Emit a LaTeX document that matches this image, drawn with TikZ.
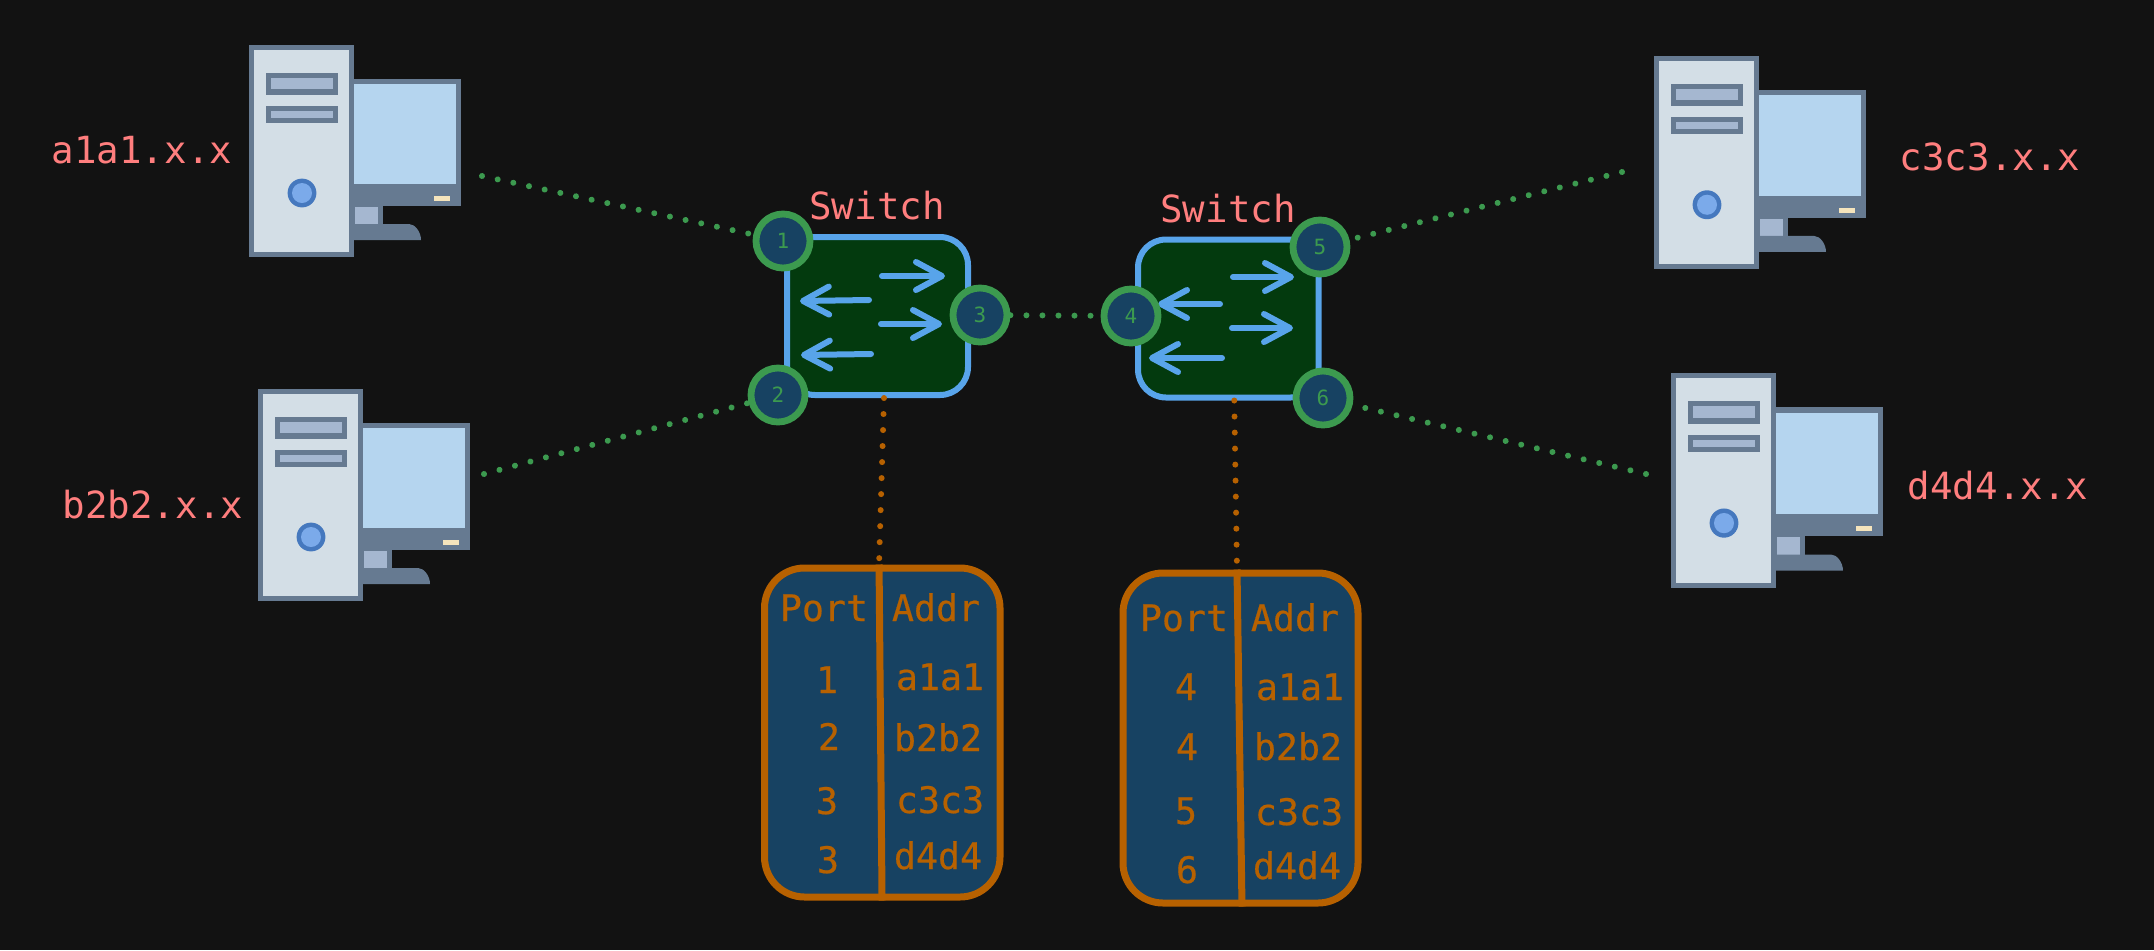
\documentclass[tikz,border=0pt]{standalone}
\usepackage{fontspec}
\setmainfont{DejaVu Sans Mono}
\newfontfamily\tblfont[FakeBold=0.5]{DejaVu Sans Mono}
\usetikzlibrary{arrows.meta}
\definecolor{bgc}{HTML}{121212}
\definecolor{pink}{HTML}{FF7E7E}
\definecolor{swfill}{HTML}{033A0E}
\definecolor{flowc}{HTML}{58A4EA}
\definecolor{linkc}{HTML}{3C9A4F}
\definecolor{cellc}{HTML}{174262}
\definecolor{amber}{HTML}{B76100}
\definecolor{pcedge}{HTML}{667A91}
\definecolor{pcbody}{HTML}{D3DEE6}
\definecolor{pcscreen}{HTML}{B5D5EF}
\definecolor{pcbay}{HTML}{A5B7D0}
\definecolor{pcbtn}{HTML}{7BAAEA}
\definecolor{pcbtne}{HTML}{4578BE}
\definecolor{pcled}{HTML}{F5E4BC}
\tikzset{
  x=0.5pt,y=-0.5pt,
  hostlabel/.style={text=pink,anchor=base,inner sep=0pt,font=\fontsize{18.7}{22}\selectfont},
  celltext/.style={text=amber,anchor=base,inner sep=0pt,font=\tblfont\fontsize{18.3}{22}\selectfont},
  switchbox/.style={draw=flowc,fill=swfill,line width=3pt,rounded corners=14pt,minimum width=90.5pt,minimum height=79pt,inner sep=0pt},
  portnode/.style={circle,draw=linkc,fill=cellc,line width=3.4pt,minimum size=27pt,inner sep=0pt,text=linkc,font=\fontsize{10.5}{12}\selectfont},
  tablebox/.style={draw=amber,fill=cellc,line width=3.5pt,rounded corners=20pt,inner sep=0pt},
  divider/.style={draw=amber,line width=3.5pt},
  flow/.style={draw=flowc,line width=3pt,line cap=round,-{Straight Barb[round,length=13pt,width=14pt]}},
  greenlink/.style={draw=linkc,line width=3pt,line cap=round,dash pattern=on 0.01pt off 8pt},
  amberlink/.style={draw=amber,line width=3pt,line cap=round,dash pattern=on 0.01pt off 8pt},
  computer/.pic={
    \fill[pcedge] (105,34) rectangle (212,161);
    \fill[pcscreen] (105,39) rectangle (207,139);
    \fill[pcled] (185,151) rectangle (201,156);
    \fill[pcedge] (105,161) rectangle (134,179);
    \fill[pcbay] (106,162) rectangle (129,179);
    \fill[pcedge] (105,179) -- (160,179) .. controls (166,179) and (172,187) .. (172,195) -- (105,195) -- cycle;
    \fill[pcedge] (0,0) rectangle (105,212);
    \fill[pcbody] (5,5) rectangle (100,207);
    \fill[pcedge] (17,28) rectangle (89,50);
    \fill[pcbay] (22,33) rectangle (84,44);
    \fill[pcedge] (17,61) rectangle (89,78);
    \fill[pcbay] (22,66) rectangle (84,73);
    \fill[pcbtne] (53,148) circle [radius=7.2pt];
    \fill[pcbtn] (53,148) circle [radius=5pt];
  }
}
\begin{document}
\begin{tikzpicture}
\fill[bgc] (0,0) rectangle (2154,950);
\useasboundingbox (0,0) rectangle (2154,950);
% computers
\pic at (249,45) {computer};
\pic at (258,389) {computer};
\pic[yscale=1.005] at (1654,56) {computer};
\pic[yscale=1.014] at (1671,373) {computer};
% host labels
\node[hostlabel] (h1) at (142,163) {a1a1.x.x};
\node[hostlabel] (h2) at (153,518) {b2b2.x.x};
\node[hostlabel] (h3) at (1990,170) {c3c3.x.x};
\node[hostlabel] (h4) at (1998,499) {d4d4.x.x};
% free ends of links
\coordinate (c1) at (482,176);
\coordinate (c2) at (484,474);
\coordinate (c5) at (1622,172);
\coordinate (c6) at (1646,474);
% switches
\node[switchbox] (s1) at (877.5,316) {};
\node[switchbox,minimum width=90.25pt] (s2) at (1228.25,318.5) {};
\node[hostlabel] (sl1) at (877,219) {Switch};
\node[hostlabel] (sl2) at (1228,222) {Switch};
% flow arrows
\coordinate (fa1) at (882,276); \coordinate (fb1) at (945,276);
\coordinate (fa2) at (881,324); \coordinate (fb2) at (942,324);
\coordinate (fa3) at (869,300); \coordinate (fb3) at (800,301);
\coordinate (fa4) at (871,354); \coordinate (fb4) at (801,355);
\coordinate (fa5) at (1233,277); \coordinate (fb5) at (1294,277);
\coordinate (fa6) at (1232,328); \coordinate (fb6) at (1293,328);
\coordinate (fa7) at (1220,304); \coordinate (fb7) at (1158,304);
\coordinate (fa8) at (1222,358); \coordinate (fb8) at (1149,358);
\foreach \i in {1,...,8} {\draw[flow] (fa\i) -- (fb\i);}
% ports
\node[portnode] (p1) at (783,241) {1};
\node[portnode] (p2) at (778,395) {2};
\node[portnode] (p3) at (980,315) {3};
\node[portnode] (p4) at (1131,316) {4};
\node[portnode] (p5) at (1320,247) {5};
\node[portnode] (p6) at (1323,398) {6};
% tables
\node[tablebox,minimum width=117.75pt,minimum height=164.5pt] (t1) at (882.25,732.5) {};
\node[tablebox,minimum width=117.5pt,minimum height=165pt] (t2) at (1240.5,738) {};
\draw[divider] ([xshift=-1.6pt]t1.north) -- ([xshift=-0.1pt]t1.south);
\draw[divider] ([xshift=-1.75pt]t2.north) -- ([xshift=0.75pt]t2.south);
% green links
\draw[greenlink] (c1) -- (p1);
\draw[greenlink] (c2) -- (p2);
\draw[greenlink] (p3) -- (p4);
\draw[greenlink] (c5) -- (p5);
\draw[greenlink] (c6) -- (p6);
% amber links
\draw[amberlink] ([xshift=3.25pt]s1.south) -- ([xshift=-1.6pt]t1.north);
\draw[amberlink] ([xshift=3pt]s2.south) -- ([xshift=-1.75pt]t2.north);
% table 1 text
\node[celltext] (t1p) at (824,621) {Port};
\node[celltext] (t1a) at (936,621) {Addr};
\node[celltext] (t1p1) at (827,693) {1};
\node[celltext] (t1p2) at (829,750) {2};
\node[celltext] (t1p3) at (827,814) {3};
\node[celltext] (t1p4) at (828,873) {3};
\node[celltext] (t1a1) at (940,690) {a1a1};
\node[celltext] (t1a2) at (938,751) {b2b2};
\node[celltext] (t1a3) at (940,813) {c3c3};
\node[celltext] (t1a4) at (938,869) {d4d4};
% table 2 text
\node[celltext] (t2p) at (1184,631) {Port};
\node[celltext] (t2a) at (1295,631) {Addr};
\node[celltext] (t2p1) at (1186,700) {4};
\node[celltext] (t2p2) at (1187,760) {4};
\node[celltext] (t2p3) at (1186,824) {5};
\node[celltext] (t2p4) at (1187,883) {6};
\node[celltext] (t2a1) at (1300,700) {a1a1};
\node[celltext] (t2a2) at (1298,760) {b2b2};
\node[celltext] (t2a3) at (1299,825) {c3c3};
\node[celltext] (t2a4) at (1297,879) {d4d4};
\end{tikzpicture}
\end{document}
